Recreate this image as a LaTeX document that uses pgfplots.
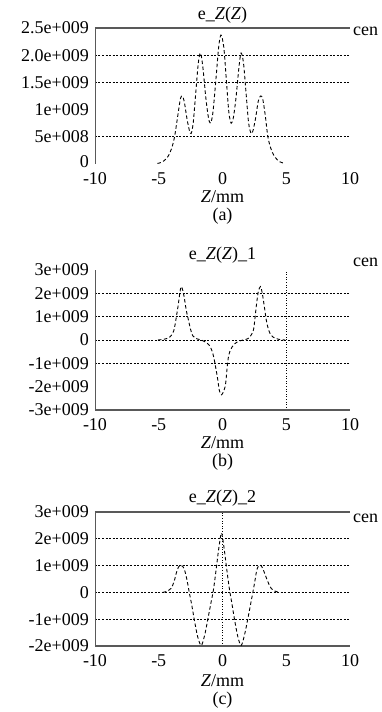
\documentclass[border=0pt]{standalone}
\usepackage{fontspec}
\setmainfont{Liberation Serif}
\usepackage{pgfplots}
\pgfplotsset{compat=1.18}
\definecolor{axgray}{gray}{0.35}
\tikzset{grd/.style={black, line width=0.7pt, dash pattern=on 2pt off 1.5pt},
  lab/.style={inner sep=0pt}}
\pgfplotsset{
  panel/.style={
    scale only axis, width=255pt, anchor=north west,
    xmin=-10, xmax=10,
    xtick={-10,-5,0,5,10}, xticklabels={-10,-5,0,5,10},
    scaled y ticks=false, scaled x ticks=false,
    major tick length=0pt,
    axis line style={draw=none},
    tick label style={font=\fontsize{18}{20}\selectfont},
    xticklabel style={yshift=-2.5pt},
    clip=false,
  },
  crv/.style={black, line width=0.9pt, dash pattern=on 3.5pt off 2.5pt, smooth, no marks},
}
\begin{document}
\fontsize{18}{20}\selectfont
\begin{tikzpicture}
\path[use as bounding box] (0pt,0pt) rectangle (381pt,-712pt);

% ---------------- (a)
\begin{axis}[panel, at={(95pt,-28pt)}, height=136pt,
  ymin=0, ymax=2.5e9,
  ytick={0,5e8,1e9,1.5e9,2e9,2.5e9},
  yticklabels={\raisebox{4pt}{0},5e+008,1e+009,1.5e+009,2.0e+009,2.5e+009}]
\draw[grd] (axis cs:-10,5e8) -- (axis cs:10,5e8);
\draw[grd] (axis cs:-10,1.5e9) -- (axis cs:10,1.5e9);
\draw[grd] (axis cs:-10,2e9) -- (axis cs:10,2e9);
\draw[axgray, line width=1.3pt] (rel axis cs:0,1) -- (rel axis cs:1,1);
\draw[axgray, line width=0.9pt] (rel axis cs:0,0) -- (rel axis cs:0,1);
\addplot[crv] coordinates {
(-5.1,0.01e9) (-4.7,0.04e9) (-4.3,0.13e9) (-4.0,0.28e9) (-3.76,0.5e9)
(-3.5,0.9e9) (-3.3,1.2e9) (-3.16,1.25e9) (-3.0,1.15e9) (-2.8,0.85e9)
(-2.6,0.62e9) (-2.46,0.56e9) (-2.3,0.75e9) (-2.1,1.3e9) (-1.9,1.85e9)
(-1.73,2.04e9) (-1.55,1.8e9) (-1.3,1.2e9) (-1.1,0.85e9) (-0.94,0.75e9)
(-0.75,0.95e9) (-0.5,1.6e9) (-0.3,2.15e9) (-0.12,2.37e9) (0.1,2.15e9)
(0.3,1.55e9) (0.5,0.95e9) (0.68,0.75e9) (0.85,0.85e9) (1.05,1.2e9)
(1.3,1.8e9) (1.46,2.04e9) (1.65,1.85e9) (1.85,1.3e9) (2.05,0.75e9)
(2.25,0.56e9) (2.4,0.62e9) (2.6,0.85e9) (2.8,1.15e9) (2.98,1.25e9)
(3.15,1.2e9) (3.35,0.9e9) (3.56,0.5e9) (3.8,0.28e9) (4.1,0.13e9)
(4.5,0.04e9) (4.9,0.01e9)};
\end{axis}
\node[lab] at (222.5pt,-15pt) {e\_\textit{Z}(\textit{Z})};
\node[lab] at (222.5pt,-197pt) {\textit{Z}/mm};
\node[lab] at (222.5pt,-216pt) {(a)};
\node[lab, anchor=west] at (353pt,-31pt) {cen};

% ---------------- (b)
\begin{axis}[panel, at={(95pt,-270pt)}, height=140pt,
  ymin=-3e9, ymax=3e9,
  ytick={-3e9,-2e9,-1e9,0,1e9,2e9,3e9},
  yticklabels={-3e+009,-2e+009,-1e+009,0,1e+009,2e+009,3e+009}]
\draw[grd] (axis cs:-10,2e9) -- (axis cs:10,2e9);
\draw[grd] (axis cs:-10,1e9) -- (axis cs:10,1e9);
\draw[grd] (axis cs:-10,0) -- (axis cs:10,0);
\draw[grd] (axis cs:-10,-1e9) -- (axis cs:10,-1e9);
\draw[black, line width=0.6pt, dotted] (axis cs:5,-3e9) -- (axis cs:5,3e9);
\draw[axgray, line width=1.1pt] (rel axis cs:0,0) -- (rel axis cs:1,0);
\draw[axgray, line width=0.9pt] (rel axis cs:0,0) -- (rel axis cs:0,1);
\addplot[crv] coordinates {
(-5.07,0) (-4.6,0.03e9) (-4.16,0.11e9) (-3.9,0.3e9) (-3.76,0.54e9)
(-3.5,1.4e9) (-3.35,2.0e9) (-3.24,2.29e9) (-3.1,2.1e9) (-2.98,1.75e9)
(-2.85,1.3e9) (-2.72,0.97e9) (-2.5,0.45e9) (-2.33,0.18e9) (-2.0,0.05e9)
(-1.67,0) (-1.3,-0.1e9) (-1.02,-0.24e9) (-0.8,-0.5e9) (-0.63,-0.89e9)
(-0.4,-1.6e9) (-0.24,-2.18e9) (-0.08,-2.35e9) (0.08,-2.2e9) (0.24,-1.89e9)
(0.42,-0.89e9) (0.6,-0.45e9) (0.94,-0.17e9) (1.3,-0.05e9) (1.6,0)
(2.0,0.06e9) (2.38,0.33e9) (2.5,0.7e9) (2.64,1.4e9) (2.8,2.05e9)
(2.98,2.29e9) (3.12,2.0e9) (3.29,1.4e9) (3.42,0.9e9) (3.56,0.54e9)
(3.75,0.25e9) (3.95,0.13e9) (4.4,0.03e9) (4.92,0)};
\end{axis}
\node[lab] at (222.5pt,-255pt) {e\_\textit{Z}(\textit{Z})\_1};
\node[lab] at (222.5pt,-443pt) {\textit{Z}/mm};
\node[lab] at (222.5pt,-462pt) {(b)};
\node[lab, anchor=west] at (353pt,-262pt) {cen};

% ---------------- (c)
\begin{axis}[panel, at={(95pt,-512pt)}, height=134pt,
  ymin=-2e9, ymax=3e9,
  ytick={-2e9,-1e9,0,1e9,2e9,3e9},
  yticklabels={-2e+009,-1e+009,0,1e+009,2e+009,3e+009}]
\draw[grd] (axis cs:-10,2e9) -- (axis cs:10,2e9);
\draw[grd] (axis cs:-10,1e9) -- (axis cs:10,1e9);
\draw[grd] (axis cs:-10,0) -- (axis cs:10,0);
\draw[grd] (axis cs:-10,-1e9) -- (axis cs:10,-1e9);
\draw[black, line width=0.6pt, dotted] (axis cs:0,-2e9) -- (axis cs:0,3e9);
\draw[axgray, line width=1.1pt] (rel axis cs:0,0) -- (rel axis cs:1,0);
\draw[axgray, line width=1.1pt] (rel axis cs:0,1) -- (rel axis cs:1,1);
\draw[axgray, line width=0.9pt] (rel axis cs:0,0) -- (rel axis cs:0,1);
\addplot[crv] coordinates {
(-4.68,0) (-4.3,0.05e9) (-4.03,0.15e9) (-3.8,0.4e9) (-3.63,0.71e9)
(-3.45,0.95e9) (-3.29,1.02e9) (-3.12,0.97e9) (-2.98,0.84e9) (-2.8,0.5e9)
(-2.59,-0.04e9) (-2.4,-0.5e9) (-2.2,-1.05e9) (-1.95,-1.65e9) (-1.67,-1.98e9)
(-1.4,-1.6e9) (-1.15,-1.0e9) (-0.93,-0.45e9) (-0.71,0.1e9) (-0.5,0.85e9)
(-0.31,1.58e9) (-0.1,2.21e9) (0.02,2.0e9) (0.16,1.52e9) (0.35,0.8e9)
(0.55,0.1e9) (0.75,-0.45e9) (0.94,-1.0e9) (1.2,-1.65e9) (1.46,-1.98e9)
(1.72,-1.6e9) (1.98,-1.0e9) (2.18,-0.5e9) (2.38,0) (2.55,0.45e9)
(2.69,0.84e9) (2.83,0.98e9) (2.98,1.02e9) (3.15,0.9e9) (3.37,0.63e9)
(3.6,0.35e9) (3.82,0.15e9) (4.1,0.05e9) (4.47,0)};
\end{axis}
\node[lab] at (222.5pt,-498pt) {e\_\textit{Z}(\textit{Z})\_2};
\node[lab] at (222.5pt,-681pt) {\textit{Z}/mm};
\node[lab] at (222.5pt,-700pt) {(c)};
\node[lab, anchor=west] at (353pt,-518pt) {cen};
\end{tikzpicture}
\end{document}
